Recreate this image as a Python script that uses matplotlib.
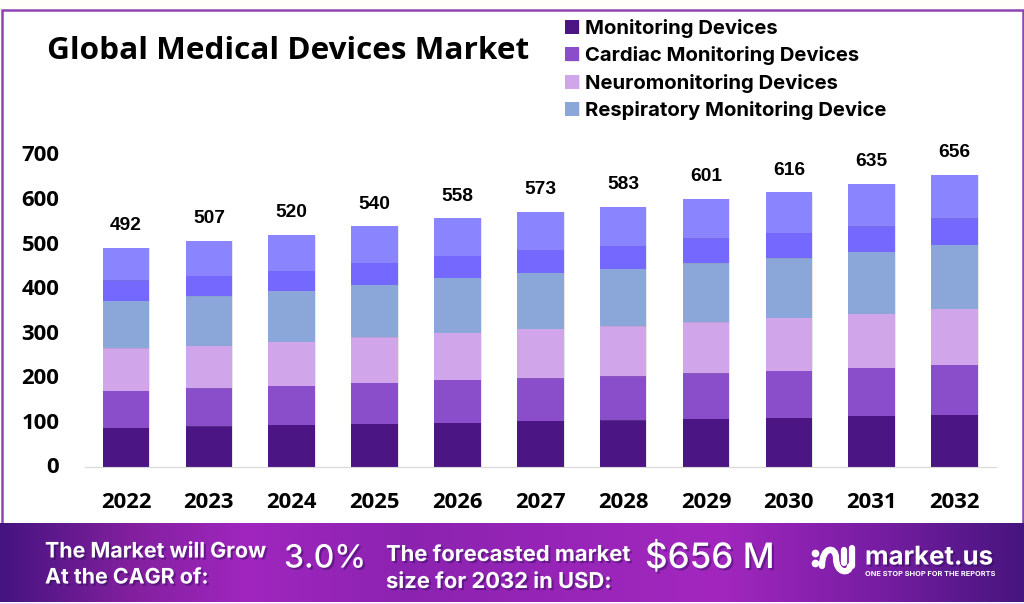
import numpy as np
import matplotlib
matplotlib.use("Agg")
import matplotlib.pyplot as plt
import matplotlib.patheffects as pe
from matplotlib.colors import LinearSegmentedColormap
from matplotlib.patches import Rectangle, PathPatch
from matplotlib.path import Path
from matplotlib.transforms import ScaledTranslation

years = ["2022","2023","2024","2025","2026","2027","2028","2029","2030","2031","2032"]
totals = [492,507,520,540,558,573,583,601,616,635,656]
monitoring = [88,91,94,97,99,103,104,108,110,114,117]
cardiac = [83,85,88,91,96,96,99,102,106,108,112]
neuro = [95,96,99,103,106,111,112,114,118,121,125]
respiratory = [107,111,114,118,123,126,129,133,134,140,144]
other_a = [46,46,45,49,50,51,52,56,57,57,60]
other_b = [73,78,80,82,84,86,87,88,91,95,98]
series = [monitoring, cardiac, neuro, respiratory, other_a, other_b]
names = ["Monitoring Devices","Cardiac Monitoring Devices","Neuromonitoring Devices","Respiratory Monitoring Device",None,None]
colors = ["#4B1684","#8A4ECB","#D0A5EA","#8BA7DA","#7468FE","#8A85FF"]

W, H = 1024, 604
fig = plt.figure(figsize=(W/100, H/100), dpi=100, facecolor="#FFFEF9")

# pixel-space backdrop
bg = fig.add_axes([0,0,1,1], zorder=0)
bg.set_xlim(0,W); bg.set_ylim(H,0); bg.axis("off")
bg.add_patch(Rectangle((0,602.5),W,2,color="#F6D3F6",lw=0))
bg.add_patch(Rectangle((1.5,9.5),1021,516,facecolor="white",edgecolor="#8E44B5",lw=1.8))
cm = LinearSegmentedColormap.from_list("band",[(0,"#451480"),(0.13,"#84209F"),(0.24,"#A026BF"),(0.40,"#8C23B0"),(0.70,"#A327BF"),(0.85,"#7A1EA5"),(1,"#47157F")])
bg.imshow(np.linspace(0,1,512)[None,:],extent=(0,W,602.5,524),aspect="auto",cmap=cm,zorder=2)
bg.set_xlim(0,W); bg.set_ylim(H,0)

shadow = [pe.SimplePatchShadow(offset=(1.5,-1.5),shadow_rgbFace="#2A0C55",alpha=0.45), pe.Normal()]
def t(x,y,s,size,weight="bold",ha="left",family="Inter",color="white",fx=shadow):
    return bg.text(x,y,s,fontsize=size,fontweight=weight,ha=ha,va="center",family=family,color=color,path_effects=fx,zorder=3)

bg.text(47,51,"Global Medical Devices Market",fontsize=22.65,fontweight="bold",family="Open Sans",color="black",va="center",ha="left")
t(45,551.5,"The Market will Grow",15.4)
t(45,577.5,"At the CAGR of:",15.4)
t(284,559,"3.0%",23,weight="medium")
t(386,555,"The forecasted market",15.8)
t(386,582,"size for 2032 in USD:",15.8)
t(645,559,"$656 M",25.2,weight="medium")
t(865,558,"market.us",18.6,weight="bold")
t(865,573.5,"ONE STOP SHOP FOR THE REPORTS",5.35,weight="bold",fx=None)

# logo mark
wave = Path([(822,566),(822,546),(836,546),(836,558),(836,574),(850,574),(850,566)],
            [Path.MOVETO,Path.CURVE4,Path.CURVE4,Path.CURVE4,Path.CURVE4,Path.CURVE4,Path.CURVE4])
bg.add_patch(PathPatch(wave,fill=False,edgecolor="white",lw=4.5,capstyle="round",zorder=3))
bg.plot([844,844],[550,563],color="white",lw=4.5,solid_capstyle="round",zorder=3)
bg.plot([852,852],[548,566],color="white",lw=4.5,solid_capstyle="round",zorder=3)
bg.plot([815,815],[553,563],color="white",lw=0,marker="o",ms=4.5,zorder=3)

# chart axes: bottom at y=466.7, 700 at y=155
x0, x1, ytop, ybot = 84.6, 996, 155, 466.7
ax = fig.add_axes([x0/W, 1-ybot/H, (x1-x0)/W, (ybot-ytop)/H], zorder=2)
ax.patch.set_alpha(0)
x = np.arange(len(years))
bottom = np.zeros(len(years))
bar_fx = [pe.SimplePatchShadow(offset=(0.7,-0.3),shadow_rgbFace="#888888",alpha=0.2), pe.Normal()]
handles = []
for vals, name, c in zip(series, names, colors):
    b = ax.bar(x, vals, 0.563, bottom=bottom, color=c, lw=0, label=name, path_effects=bar_fx)
    bottom = bottom + np.array(vals)
    if name:
        handles.append(b)
ax.set_xlim(-0.5, len(years)-0.5)
ax.set_ylim(0,700)
ax.set_xticks(x, years)
ax.set_yticks(range(0,701,100))
for s in ["top","right","left"]:
    ax.spines[s].set_visible(False)
ax.spines["bottom"].set_color("#D9D9D9")
ax.tick_params(length=0)
ax.tick_params(axis="x",pad=18)
ax.tick_params(axis="y",pad=18.2)
for lab in ax.get_xticklabels()+ax.get_yticklabels():
    lab.set_fontsize(15.9); lab.set_fontweight("bold"); lab.set_family("Open Sans"); lab.set_color("black")
up = ScaledTranslation(0, 1.5/100, fig.dpi_scale_trans)
for lab in ax.get_yticklabels():
    lab.set_transform(lab.get_transform() + up)
for xi, total in zip(x, totals):
    ax.annotate(str(total),(xi,total),xytext=(0,16),textcoords="offset points",ha="center",va="center",
                fontsize=13.8,fontweight="bold",family="Liberation Sans",color="black")

leg = fig.legend(handles=handles, loc="upper left", bbox_to_anchor=(557/W, 1-11/H), frameon=False,
                 prop={"family":"Inter","weight":"bold","size":14.6}, handlelength=0.69, handleheight=0.69,
                 handletextpad=0.3, labelspacing=0.41, borderaxespad=0, borderpad=0.4)
leg.set_zorder(5)

fig.savefig("out.png", dpi=100, facecolor=fig.get_facecolor())
